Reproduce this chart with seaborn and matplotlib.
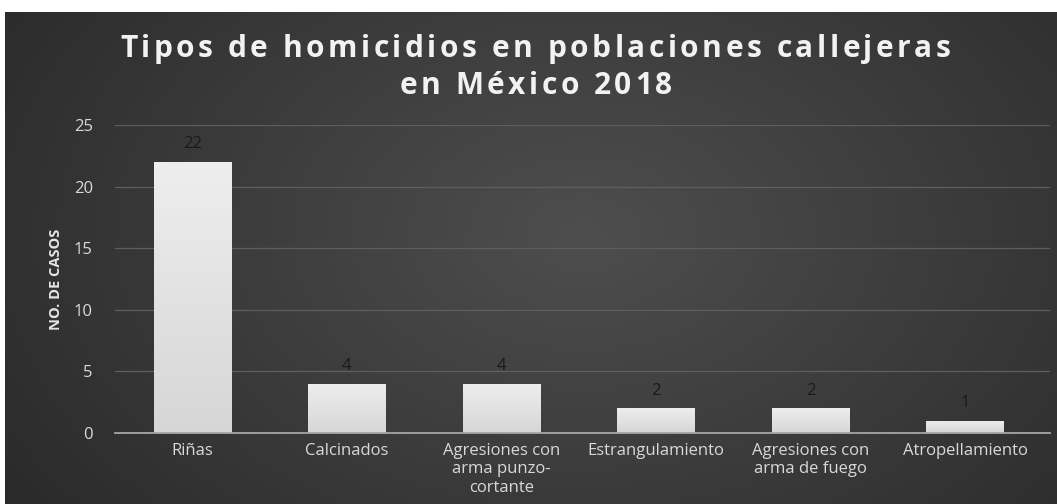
import numpy as np
import matplotlib
matplotlib.use("Agg")
import matplotlib.pyplot as plt
from matplotlib.font_manager import FontProperties
import seaborn as sns
import pandas as pd

categories = ["Riñas", "Calcinados", "Agresiones con\narma punzo-\ncortante",
              "Estrangulamiento", "Agresiones con\narma de fuego", "Atropellamiento"]
values = [22, 4, 4, 2, 2, 1]
yticks = [0, 5, 10, 15, 20, 25]
title_lines = ["Tipos de homicidios en poblaciones callejeras", "en México 2018"]
ylabel = "NO. DE CASOS"

sns.set_theme(style="dark")
plt.rcParams['font.family'] = ['Open Sans', 'DejaVu Sans']

W, H = 1057, 504
fig = plt.figure(figsize=(W / 100, H / 100), dpi=100)
fig.patch.set_facecolor("white")

# dark radial-gradient panel
bg = fig.add_axes([5 / W, 0, 1052 / W, 492 / H])
yy, xx = np.mgrid[0:1:300j, 0:1:600j]
r = np.sqrt(((xx - 0.55) * 1.3) ** 2 + ((yy - 0.55) * 0.9) ** 2)
r = np.clip(r / r.max(), 0, 1)
c0 = np.array([0x4e, 0x4e, 0x4e]) / 255
c1 = np.array([0x2a, 0x2a, 0x2a]) / 255
img = c0[None, None, :] * (1 - r[..., None]) + c1[None, None, :] * r[..., None]
bg.imshow(img, aspect="auto", extent=[0, 1, 0, 1], origin="lower")
bg.set_axis_off()

ax = fig.add_axes([115 / W, 1 - 433 / H, (1050 - 115) / W, (433 - 125) / H])
ax.patch.set_alpha(0)
df = pd.DataFrame({"cat": categories, "val": values})
sns.barplot(data=df, x="cat", y="val", color="#e4e4e4", width=0.5, ax=ax,
            saturation=1, edgecolor="none")

# subtle vertical gradient on bars
grad = np.linspace(0, 1, 256)[:, None]
top = np.array([0xee, 0xee, 0xee]) / 255
bot = np.array([0xd6, 0xd6, 0xd6]) / 255
gimg = (bot[None, None, :] * (1 - grad[..., None]) + top[None, None, :] * grad[..., None])
for p in list(ax.patches):
    x0, y0 = p.get_x(), p.get_y()
    w, h = p.get_width(), p.get_height()
    im = ax.imshow(gimg, extent=[x0, x0 + w, y0, y0 + h], origin="lower",
                   aspect="auto", zorder=p.get_zorder() + 0.1)
    im.set_clip_path(p)

ax.bar_label(ax.containers[0], color="#1a1a1a", padding=7, fontsize=12)

ax.set_ylim(0, 25)
ax.set_xlim(-0.5, len(categories) - 0.45)
ax.set_yticks(yticks)
ax.grid(axis="y", color="#5e5e5e", linewidth=0.9)
ax.grid(axis="x", visible=False)
ax.set_axisbelow(True)
for s in ["top", "right", "left"]:
    ax.spines[s].set_visible(False)
ax.spines["bottom"].set_color("#a6a6a6")
ax.spines["bottom"].set_linewidth(1.3)
ax.tick_params(axis="both", colors="#d9d9d9", labelsize=12, length=0)
ax.tick_params(axis="y", pad=16)
ax.tick_params(axis="x", pad=7)
ax.set_xlabel("")
ax.set_ylabel(ylabel, color="#e6e6e6", fontsize=10.5, fontweight="bold", labelpad=8)

# letter-spaced title, drawn character by character
fig.canvas.draw()
renderer = fig.canvas.get_renderer()
tprop = FontProperties(family=["Open Sans", "DejaVu Sans"], weight="bold", size=21.5)


def char_w(c):
    wa, _, _ = renderer.get_text_width_height_descent("a" + c + "a", tprop, ismath=False)
    wb, _, _ = renderer.get_text_width_height_descent("aa", tprop, ismath=False)
    return wa - wb


target_w = 828.0
widths0 = [char_w(c) for c in title_lines[0]]
spacing = (target_w - sum(widths0)) / (len(title_lines[0]) - 1)
cx = 536.0
for line, ypix in zip(title_lines, [49, 86]):
    ws = [char_w(c) for c in line]
    total = sum(ws) + spacing * (len(line) - 1)
    x = cx - total / 2
    for c, w in zip(line, ws):
        if c != " ":
            fig.text((x + w / 2) / W, 1 - ypix / H, c, ha="center", va="center",
                     color="#f2f2f2", fontproperties=tprop)
        x += w + spacing

fig.savefig("out.png", dpi=100)
